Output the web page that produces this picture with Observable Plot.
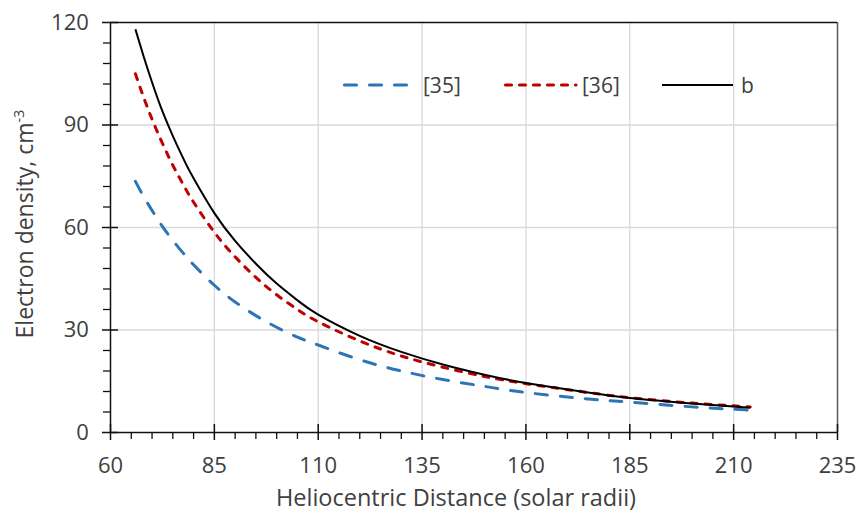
<!DOCTYPE html>
<html><head><meta charset="utf-8">
<script src="https://cdn.jsdelivr.net/npm/d3@7"></script>
<script src="https://cdn.jsdelivr.net/npm/@observablehq/plot@0.6"></script>
<style>
html,body{margin:0;padding:0;background:#fff;}
#chart{width:856px;height:516px;}
</style></head><body><div id="chart"></div>
<script>
// Heliocentric distance (solar radii)
const distance = [66, 68, 70, 72, 74, 76, 78, 80, 85, 90, 95, 100, 105, 110, 120, 130, 140, 150, 160, 175, 185, 200, 210, 214];
// Electron density, cm^-3
const ref35 = [73.5, 69, 65, 61.2, 57.8, 54.7, 51.8, 49.1, 43.1, 38.2, 34.2, 30.8, 27.9, 25.6, 21.3, 18.0, 15.5, 13.5, 11.7, 9.8, 8.9, 7.5, 6.8, 6.5];
const ref36 = [105, 98, 91.7, 86, 80.7, 75.9, 71.5, 67.4, 58.6, 51.4, 45.4, 40.3, 36.0, 32.4, 26.8, 22.4, 19.1, 16.4, 14.3, 11.7, 10.2, 8.6, 7.8, 7.5];
const bModel = [118, 110, 102.5, 95.6, 89.6, 84.1, 79.0, 74.4, 64.2, 56.1, 49.4, 43.6, 38.7, 34.5, 28.3, 23.6, 19.9, 16.9, 14.5, 11.7, 10.1, 8.5, 7.6, 7.25];
const seriesNames = ["[35]", "[36]", "b"];
const xTicks = [60, 85, 110, 135, 160, 185, 210, 235];
const yTicks = [0, 30, 60, 90, 120];
const xMinor = d3.range(60, 236, 5).filter(v => !xTicks.includes(v));
const yMinor = d3.range(0, 121, 6).filter(v => !yTicks.includes(v));

const FONT = "'Open Sans', sans-serif";
const colors = {"[35]": "#2e75b6", "[36]": "#c00000", "b": "#000000"};
const dashes = {"[35]": "12,13", "[36]": "6,8", "b": null};
const widths = {"[35]": 3, "[36]": 3, "b": 2};

const rows = (ys) => distance.map((x, i) => ({x, y: ys[i]}));
const seriesData = {"[35]": rows(ref35), "[36]": rows(ref36), "b": rows(bModel)};

const chart = Plot.plot({
  width: 856,
  height: 516,
  marginLeft: 110,
  marginRight: 19,
  marginTop: 22,
  marginBottom: 84,
  style: {fontFamily: FONT, background: "#fff", overflow: "visible"},
  x: {domain: [60, 235], label: null},
  y: {domain: [0, 120], label: null},
  marks: [
    Plot.gridX(xTicks.slice(1, -1), {stroke: "#d9d9d9", strokeOpacity: 1, strokeWidth: 1.3}),
    Plot.gridY(yTicks.slice(1, -1), {stroke: "#d9d9d9", strokeOpacity: 1, strokeWidth: 1.3}),
    ...seriesNames.map(s => Plot.line(seriesData[s], {
      x: "x", y: "y", stroke: colors[s], strokeWidth: widths[s],
      strokeDasharray: dashes[s], strokeLinecap: dashes[s] ? "round" : "butt",
      curve: "natural"
    })),
    Plot.ruleX([235], {stroke: "#595959", strokeWidth: 1.5}),
    Plot.ruleY([120], {stroke: "#111", strokeWidth: 1.5}),
    Plot.ruleX([60], {stroke: "#111", strokeWidth: 1.5}),
    Plot.ruleY([0], {stroke: "#111", strokeWidth: 1.5}),
    Plot.axisX(xMinor, {tickSize: 7, tickFormat: () => "", stroke: "#111", strokeWidth: 1.3, label: null}),
    Plot.axisX(xTicks, {tickSize: 16, dy: -8, tickFormat: () => "", stroke: "#111", strokeWidth: 1.5, label: null}),
    Plot.axisX(xTicks, {tickSize: 0, tickPadding: 25, fontSize: 22, fill: "#404040", label: null}),
    Plot.axisY(yMinor, {tickSize: 7, tickFormat: () => "", stroke: "#111", strokeWidth: 1.3, label: null}),
    Plot.axisY(yTicks, {tickSize: 16, dx: 8, tickFormat: () => "", stroke: "#111", strokeWidth: 1.5, label: null}),
    Plot.axisY(yTicks, {tickSize: 0, tickPadding: 21.7, fontSize: 22, fill: "#404040", label: null})
  ]
});

document.getElementById("chart").appendChild(chart);

const svg = d3.select(chart);
// Axis titles
svg.append("text")
  .attr("x", 456).attr("y", 505.5)
  .attr("text-anchor", "middle")
  .attr("font-family", FONT).attr("font-size", 23.5).attr("fill", "#404040")
  .text("Heliocentric Distance (solar radii)");

const yt = svg.append("text")
  .attr("transform", "translate(32.5,224) rotate(-90)")
  .attr("text-anchor", "middle")
  .attr("font-family", FONT).attr("font-size", 23).attr("fill", "#404040");
yt.append("tspan").text("Electron density, cm");
yt.append("tspan").attr("dy", -9).attr("font-size", 14.5).text("-3");

// Legend inside plot area
const legendItems = [
  {name: seriesNames[0], x0: 343, x1: 413, tx: 423},
  {name: seriesNames[1], x0: 504, x1: 576, tx: 582},
  {name: seriesNames[2], x0: 662, x1: 733, tx: 741}
];
const lg = svg.append("g");
legendItems.forEach(it => {
  lg.append("line")
    .attr("x1", it.x0 + (dashes[it.name] ? 1.5 : 0)).attr("x2", it.x1).attr("y1", 85).attr("y2", 85)
    .attr("stroke", colors[it.name]).attr("stroke-width", widths[it.name] + 0.2)
    .attr("stroke-dasharray", dashes[it.name])
    .attr("stroke-linecap", dashes[it.name] ? "round" : "butt");
  lg.append("text")
    .attr("x", it.tx).attr("y", 92.5)
    .attr("text-anchor", "start")
    .attr("font-family", FONT).attr("font-size", 21).attr("fill", "#404040")
    .text(it.name);
});
</script>
</body></html>
